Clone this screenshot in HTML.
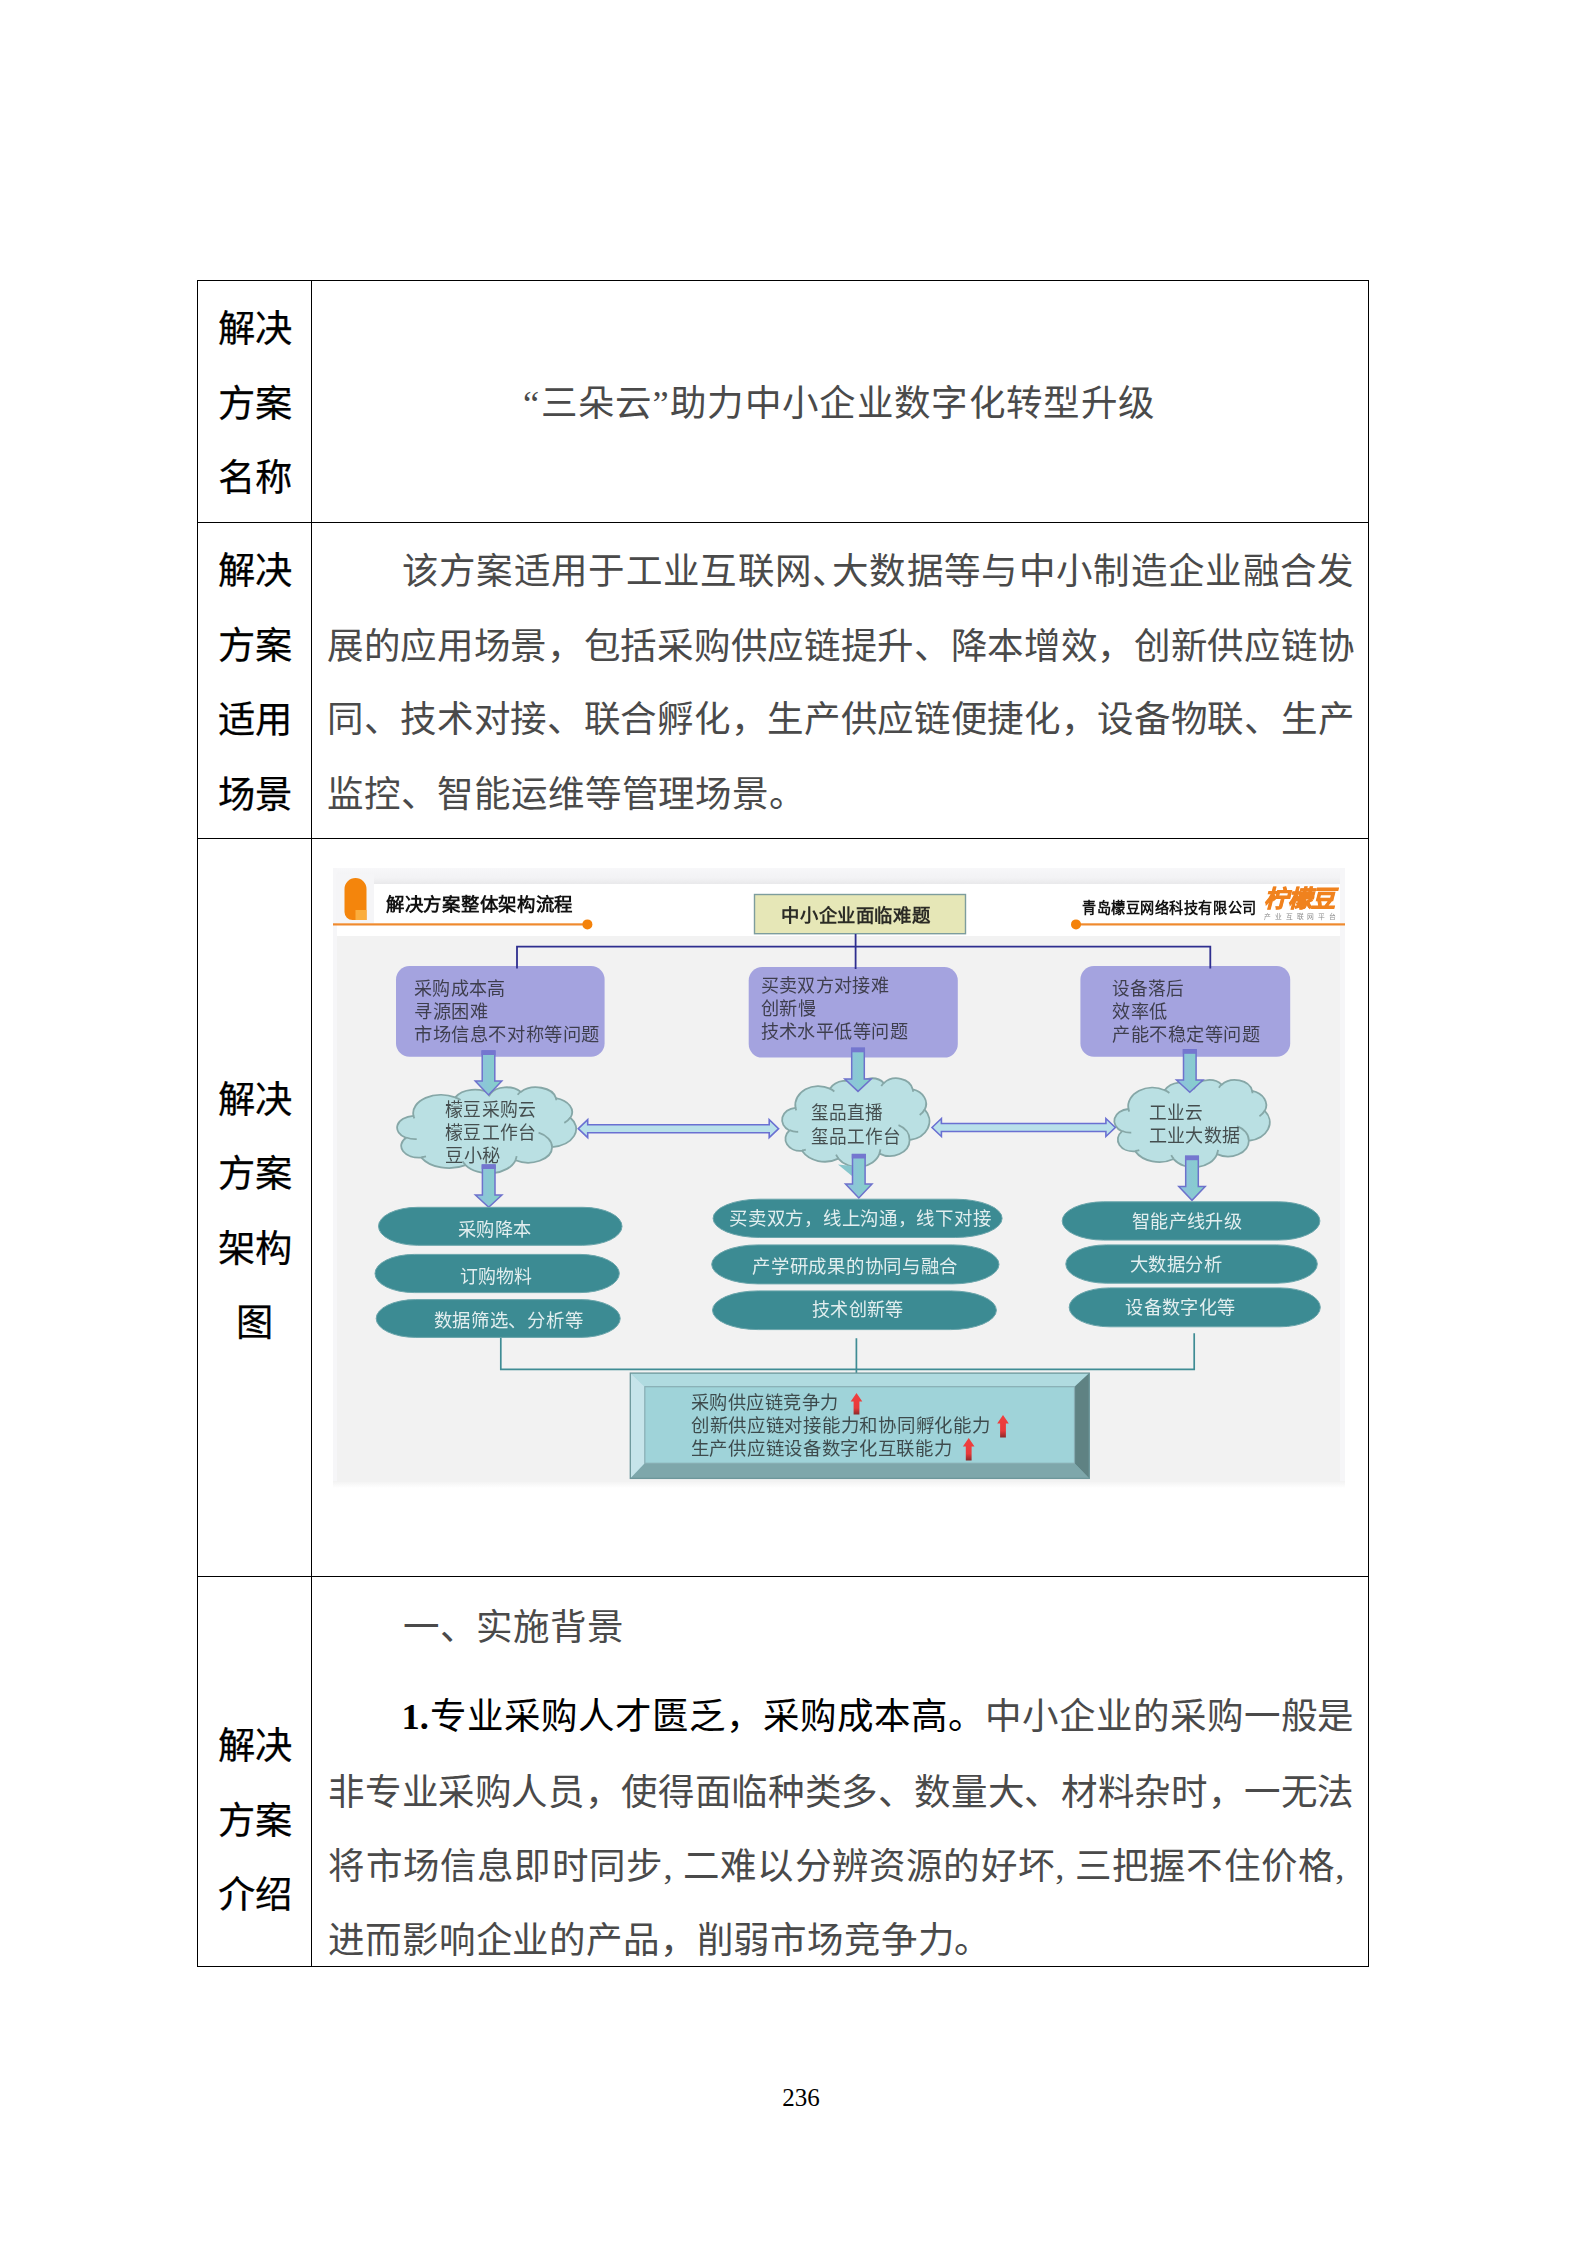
<!DOCTYPE html>
<html lang="zh-CN">
<head>
<meta charset="utf-8">
<title>解决方案</title>
<style>
html,body{margin:0;padding:0;background:#fff;}
body{width:1587px;height:2245px;position:relative;overflow:hidden;font-family:"Liberation Serif", serif;color:#000;}
.hl,.vl{position:absolute;background:#000;}
.hl{height:1px;}
.vl{width:1px;}
.t{position:absolute;white-space:nowrap;font-family:"Liberation Serif", serif;font-size:36.5px;line-height:50px;height:50px;color:#4a4a4a;}
.j{text-align:justify;text-align-last:justify;}
.s{letter-spacing:0.83px;}
.lab{position:absolute;left:198px;width:113px;text-align:center;white-space:nowrap;font-family:"Liberation Serif", serif;font-size:37.3px;line-height:50px;height:50px;font-weight:normal;color:#000;-webkit-text-stroke:0.25px #000;}
.h{display:inline-block;width:0.5em;}
b{font-weight:bold;color:#000;}
.k{color:#000;}
.pg{position:absolute;left:700px;width:200px;text-align:center;font-family:"Liberation Serif", serif;font-size:25px;line-height:30px;color:#000;}
svg{position:absolute;left:333px;top:868px;filter:blur(0.45px);}
svg text{font-family:"Liberation Serif", serif;}
svg .sn{font-family:"Liberation Sans", sans-serif;font-weight:bold;}
</style>
</head>
<body>

<div class="hl" style="left:197px;top:280px;width:1172px"></div>
<div class="hl" style="left:197px;top:522px;width:1172px"></div>
<div class="hl" style="left:197px;top:838px;width:1172px"></div>
<div class="hl" style="left:197px;top:1576px;width:1172px"></div>
<div class="hl" style="left:197px;top:1966px;width:1172px"></div>
<div class="vl" style="left:197px;top:280px;height:1687px"></div>
<div class="vl" style="left:311px;top:280px;height:1687px"></div>
<div class="vl" style="left:1368px;top:280px;height:1687px"></div>
<div class="lab" style="top:305.2px">解决</div>
<div class="lab" style="top:379.6px">方案</div>
<div class="lab" style="top:454.2px">名称</div>
<div class="lab" style="top:546.6px">解决</div>
<div class="lab" style="top:621.7px">方案</div>
<div class="lab" style="top:696.4px">适用</div>
<div class="lab" style="top:771.0px">场景</div>
<div class="lab" style="top:1075.8px">解决</div>
<div class="lab" style="top:1150.1px">方案</div>
<div class="lab" style="top:1224.6px">架构</div>
<div class="lab" style="top:1298.8px">图</div>
<div class="lab" style="top:1721.6px">解决</div>
<div class="lab" style="top:1797.0px">方案</div>
<div class="lab" style="top:1871.2px">介绍</div>
<div class="t j" style="left:523.1px;top:379.4px;width:630.9px;">“三朵云”助力中小企业数字化转型升级</div>
<div class="t j" style="left:401.7px;top:546.5px;width:951.8px;">该方案适用于工业互联网<span class="h">、</span>大数据等与中小制造企业融合发</div>
<div class="t j" style="left:327.0px;top:621.7px;width:1026.5px;">展的应用场景，包括采购供应链提升、降本增效，创新供应链协</div>
<div class="t j" style="left:327.0px;top:695.4px;width:1026.5px;">同、技术对接、联合孵化，生产供应链便捷化，设备物联、生产</div>
<div class="t s" style="left:327.0px;top:770.1px;">监控、智能运维等管理场景。</div>
<div class="t s" style="left:402.7px;top:1603.3px;">一、实施背景</div>
<div class="t j" style="left:401.4px;top:1692.2px;width:952.1px;"><b>1.</b><span class="k">专业采购人才匮乏，采购成本高。</span>中小企业的采购一般是</div>
<div class="t j" style="left:328.3px;top:1767.8px;width:1025.2px;">非专业采购人员，使得面临种类多、数量大、材料杂时，一无法</div>
<div class="t j" style="left:328.3px;top:1841.5px;width:1025.2px;">将市场信息即时同步<span class="h">,</span>二难以分辨资源的好坏<span class="h">,</span>三把握不住价格<span class="h">,</span></div>
<div class="t s" style="left:328.3px;top:1915.7px;">进而影响企业的产品，削弱市场竞争力。</div>
<div class="pg" style="top:2082.8px;left:701px">236</div>
<svg width="1012" height="620" viewBox="333 868 1012 620">
<defs>
<linearGradient id="ga" x1="0" y1="0" x2="1" y2="0"><stop offset="0" stop-color="#8fc0e0"/><stop offset="1" stop-color="#84d2c6"/></linearGradient>
 <linearGradient id="gt" x1="0" y1="0" x2="0" y2="1"><stop offset="0" stop-color="#f7f7f9"/><stop offset="0.6" stop-color="#f3f3f5"/><stop offset="1" stop-color="#e9e9eb"/></linearGradient>
<linearGradient id="gb" x1="0" y1="0" x2="0" y2="1"><stop offset="0" stop-color="#f2f2f2"/><stop offset="1" stop-color="#ffffff"/></linearGradient>
<linearGradient id="gr" x1="0" y1="0" x2="0" y2="1"><stop offset="0" stop-color="#f04040"/><stop offset="0.7" stop-color="#e83a3a"/><stop offset="1" stop-color="#8a2a2a"/></linearGradient>
</defs>
<rect x="333" y="868" width="1012" height="615" fill="#f6f6f8"/>
<rect x="337" y="868" width="1003" height="16" fill="url(#gt)"/>
<rect x="333" y="1481" width="1012" height="7" fill="url(#gb)"/>
<rect x="337" y="884" width="1003" height="598" fill="#f2f2f2"/>
<rect x="337" y="884" width="1003" height="52" fill="#ffffff"/>
<rect x="336" y="874" width="38" height="49" fill="#f5f5f7"/>
<path d="M344.5 889 a11 11 0 0 1 22 0 V920 H352.5 a8 8 0 0 1 -8 -8 Z" fill="#f4850c"/>
<rect x="355.5" y="910" width="11" height="10" fill="#fbad3c"/>
<rect x="333" y="923.3" width="254" height="2.2" fill="#ef8a2e"/>
<circle cx="587.4" cy="924.4" r="5" fill="#f4820a"/>
<text class="sn" x="386" y="911.2" font-size="18.7" textLength="187" lengthAdjust="spacingAndGlyphs" fill="#111">解决方案整体架构流程</text>
<rect x="1076" y="923.3" width="269" height="2.2" fill="#ef8a2e"/>
<circle cx="1076" cy="924.4" r="5" fill="#f4820a"/>
<text class="sn" x="1082.3" y="912.6" font-size="14.6" textLength="174.3" lengthAdjust="spacingAndGlyphs" fill="#111">青岛檬豆网络科技有限公司</text>
<text class="sn" x="1264" y="907.0" font-size="23.5" font-style="italic" textLength="71" lengthAdjust="spacingAndGlyphs" fill="#f0821e" stroke="#f0821e" stroke-width="0.9">柠檬豆</text>
<text x="1264" y="919.3" font-size="6.8" textLength="72" lengthAdjust="spacing" fill="#8c8c8c" style="font-family:'Liberation Sans', sans-serif">产业互联网平台</text>
<rect x="754.5" y="894.5" width="211" height="39.2" fill="#e6e7b7" stroke="#7d9d9d" stroke-width="1.4"/>
<text x="781.3" y="922.2" font-size="18.7" font-weight="bold" textLength="149" lengthAdjust="spacingAndGlyphs" fill="#111" fill-opacity="0.88">中小企业面临难题</text>
<path d="M500.8 1337 V1369.3 H1194.2 V1333.3 M856.4 1338.3 V1373" fill="none" stroke="#3f8c94" stroke-width="1.7"/>
<rect x="396.0" y="966.0" width="208.6" height="90.8" rx="13.5" ry="13.5" fill="#a4a3df"/>
<rect x="748.7" y="967.0" width="209.1" height="90.6" rx="13.5" ry="13.5" fill="#a4a3df"/>
<rect x="1080.4" y="966.0" width="209.8" height="90.8" rx="13.5" ry="13.5" fill="#a4a3df"/>
<path d="M517 968.5 V946.6 H1210.3 V968.5 M855.6 934 V969" fill="none" stroke="#2f2f8f" stroke-width="1.8"/>
<text x="414.0" y="995.3" font-size="18.7" fill="#1c1c1c" fill-opacity="0.75" textLength="91.7" lengthAdjust="spacingAndGlyphs">采购成本高</text>
<text x="414.0" y="1018.3" font-size="18.7" fill="#1c1c1c" fill-opacity="0.75" textLength="74.0" lengthAdjust="spacingAndGlyphs">寻源困难</text>
<text x="414.0" y="1040.8" font-size="18.7" fill="#1c1c1c" fill-opacity="0.75" textLength="186.0" lengthAdjust="spacingAndGlyphs">市场信息不对称等问题</text>
<text x="760.6" y="991.9" font-size="18.7" fill="#1c1c1c" fill-opacity="0.75" textLength="128.6" lengthAdjust="spacingAndGlyphs">买卖双方对接难</text>
<text x="760.6" y="1014.7" font-size="18.7" fill="#1c1c1c" fill-opacity="0.75" textLength="55.5" lengthAdjust="spacingAndGlyphs">创新慢</text>
<text x="760.6" y="1038.2" font-size="18.7" fill="#1c1c1c" fill-opacity="0.75" textLength="147.4" lengthAdjust="spacingAndGlyphs">技术水平低等问题</text>
<text x="1112.0" y="994.7" font-size="18.7" fill="#1c1c1c" fill-opacity="0.75" textLength="71.8" lengthAdjust="spacingAndGlyphs">设备落后</text>
<text x="1112.0" y="1018.3" font-size="18.7" fill="#1c1c1c" fill-opacity="0.75" textLength="55.5" lengthAdjust="spacingAndGlyphs">效率低</text>
<text x="1112.0" y="1041.0" font-size="18.7" fill="#1c1c1c" fill-opacity="0.75" textLength="148.0" lengthAdjust="spacingAndGlyphs">产能不稳定等问题</text>
<path d="M413.44 1115.61A27.95 18.29 0 0 1 455.27 1097.36A22.07 14.47 0 0 1 490.24 1093.83A18.07 11.83 0 0 1 520.78 1091.94A20.10 13.13 0 0 1 555.89 1098.10A22.07 14.48 0 0 1 570.38 1117.78A28.04 18.35 0 0 1 552.11 1147.13A23.94 15.66 0 0 1 515.49 1160.29A27.95 18.34 0 0 1 465.51 1165.16A31.95 20.99 0 0 1 421.33 1157.61A18.05 11.78 0 0 1 406.05 1137.86A17.98 11.83 0 0 1 413.29 1115.87Z" fill="#bae0e3" stroke="#86a7a7" stroke-width="1.8"/>
<path d="M416.72 1139.11A17.98 11.83 0 0 1 406.24 1137.52M425.97 1156.47A18.05 11.78 0 0 1 421.39 1157.23M465.50 1164.82A27.95 18.34 0 0 1 462.74 1161.35M516.61 1156.18A27.95 18.34 0 0 1 515.51 1159.98M538.56 1132.70A23.94 15.66 0 0 1 552.01 1146.90M570.30 1117.57A22.07 14.48 0 0 1 564.31 1122.89M555.92 1097.80A20.10 13.13 0 0 1 556.24 1100.32M517.65 1094.87A20.10 13.13 0 0 1 520.72 1091.66M488.94 1096.40A18.07 11.83 0 0 1 490.43 1093.63M455.24 1097.34A27.95 18.29 0 0 1 460.62 1100.02M414.38 1118.43A27.95 18.29 0 0 1 413.44 1115.61" fill="none" stroke="#86a7a7" stroke-width="1.8"/>
<path d="M795.49 1107.51A23.01 18.87 0 0 1 829.92 1088.68A18.17 14.92 0 0 1 858.72 1085.05A14.87 12.21 0 0 1 883.85 1083.09A16.55 13.54 0 0 1 912.77 1089.45A18.17 14.93 0 0 1 924.69 1109.74A23.09 18.93 0 0 1 909.65 1140.01A19.71 16.15 0 0 1 879.50 1153.59A23.01 18.92 0 0 1 838.36 1158.62A26.31 21.65 0 0 1 801.98 1150.83A14.86 12.15 0 0 1 789.40 1130.46A14.81 12.21 0 0 1 795.36 1107.78Z" fill="#bae0e3" stroke="#86a7a7" stroke-width="1.8"/>
<path d="M798.19 1131.75A14.81 12.21 0 0 1 789.56 1130.11M805.81 1149.66A14.86 12.15 0 0 1 802.03 1150.44M838.35 1158.26A23.01 18.92 0 0 1 836.07 1154.69M880.43 1149.35A23.01 18.92 0 0 1 879.52 1153.27M898.49 1125.13A19.71 16.15 0 0 1 909.57 1139.78M924.62 1109.53A18.17 14.93 0 0 1 919.69 1115.02M912.79 1089.14A16.55 13.54 0 0 1 913.05 1091.74M881.28 1086.11A16.55 13.54 0 0 1 883.81 1082.81M857.64 1087.69A14.87 12.21 0 0 1 858.87 1084.84M829.90 1088.66A23.01 18.87 0 0 1 834.33 1091.43M796.26 1110.42A23.01 18.87 0 0 1 795.49 1107.51" fill="none" stroke="#86a7a7" stroke-width="1.8"/>
<path d="M1128.42 1108.74A24.28 18.57 0 0 1 1164.75 1090.21A19.17 14.69 0 0 1 1195.13 1086.64A15.69 12.01 0 0 1 1221.65 1084.71A17.46 13.33 0 0 1 1252.15 1090.97A19.17 14.70 0 0 1 1264.73 1110.94A24.36 18.63 0 0 1 1248.87 1140.74A20.80 15.90 0 0 1 1217.06 1154.09A24.27 18.62 0 0 1 1173.65 1159.05A27.75 21.31 0 0 1 1135.27 1151.38A15.67 11.96 0 0 1 1122.00 1131.33A15.62 12.01 0 0 1 1128.29 1109.01Z" fill="#bae0e3" stroke="#86a7a7" stroke-width="1.8"/>
<path d="M1131.27 1132.60A15.62 12.01 0 0 1 1122.16 1130.99M1139.31 1150.23A15.67 11.96 0 0 1 1135.32 1151.00M1173.64 1158.69A24.27 18.62 0 0 1 1171.24 1155.18M1218.03 1149.93A24.27 18.62 0 0 1 1217.07 1153.78M1237.09 1126.09A20.80 15.90 0 0 1 1248.78 1140.51M1264.66 1110.73A19.17 14.70 0 0 1 1259.46 1116.13M1252.17 1090.67A17.46 13.33 0 0 1 1252.45 1093.22M1218.93 1087.69A17.46 13.33 0 0 1 1221.60 1084.43M1193.99 1089.24A15.69 12.01 0 0 1 1195.29 1086.43M1164.73 1090.19A24.28 18.57 0 0 1 1169.40 1092.92M1129.24 1111.61A24.28 18.57 0 0 1 1128.42 1108.74" fill="none" stroke="#86a7a7" stroke-width="1.8"/>
<path d="M838 1164.5 L852 1166 L852 1176 Z" fill="#86c6cc"/>
<text x="445.2" y="1115.6" font-size="18.7" fill="#1c1c1c" fill-opacity="0.75" textLength="90.8" lengthAdjust="spacingAndGlyphs">檬豆采购云</text>
<text x="445.2" y="1139.2" font-size="18.7" fill="#1c1c1c" fill-opacity="0.75" textLength="90.8" lengthAdjust="spacingAndGlyphs">檬豆工作台</text>
<text x="445.2" y="1162.0" font-size="18.7" fill="#1c1c1c" fill-opacity="0.75" textLength="55.5" lengthAdjust="spacingAndGlyphs">豆小秘</text>
<text x="811.0" y="1119.2" font-size="18.7" fill="#1c1c1c" fill-opacity="0.75" textLength="71.7" lengthAdjust="spacingAndGlyphs">玺品直播</text>
<text x="811.0" y="1142.7" font-size="18.7" fill="#1c1c1c" fill-opacity="0.75" textLength="89.7" lengthAdjust="spacingAndGlyphs">玺品工作台</text>
<text x="1148.8" y="1118.8" font-size="18.7" fill="#1c1c1c" fill-opacity="0.75" textLength="53.8" lengthAdjust="spacingAndGlyphs">工业云</text>
<text x="1148.8" y="1142.1" font-size="18.7" fill="#1c1c1c" fill-opacity="0.75" textLength="91.7" lengthAdjust="spacingAndGlyphs">工业大数据</text>
<path d="M482.2 1051.0 H494.8 V1081.0 H501.8 L488.5 1095.0 L475.2 1081.0 H482.2 Z" fill="url(#ga)" stroke="#6d72cc" stroke-width="1.5" stroke-linejoin="miter"/>
<rect x="481.5" y="1050.5" width="14.0" height="4.5" fill="#7476cf"/>
<path d="M482.4 1165.0 H495.0 V1195.0 H501.9 L488.7 1207.3 L475.4 1195.0 H482.4 Z" fill="url(#ga)" stroke="#6d72cc" stroke-width="1.5" stroke-linejoin="miter"/>
<rect x="481.7" y="1164.5" width="14.0" height="4.5" fill="#7476cf"/>
<path d="M851.7 1048.3 H864.3 V1079.0 H871.2 L858.0 1091.4 L844.8 1079.0 H851.7 Z" fill="url(#ga)" stroke="#6d72cc" stroke-width="1.5" stroke-linejoin="miter"/>
<rect x="851.0" y="1047.8" width="14.0" height="4.5" fill="#7476cf"/>
<path d="M852.5 1154.5 H865.1 V1184.0 H872.0 L858.8 1198.0 L845.5 1184.0 H852.5 Z" fill="url(#ga)" stroke="#6d72cc" stroke-width="1.5" stroke-linejoin="miter"/>
<rect x="851.8" y="1154.0" width="14.0" height="4.5" fill="#7476cf"/>
<path d="M1183.5 1049.8 H1196.1 V1080.0 H1203.0 L1189.8 1092.3 L1176.5 1080.0 H1183.5 Z" fill="url(#ga)" stroke="#6d72cc" stroke-width="1.5" stroke-linejoin="miter"/>
<rect x="1182.8" y="1049.3" width="14.0" height="4.5" fill="#7476cf"/>
<path d="M1185.7 1156.2 H1198.3 V1186.4 H1205.2 L1192.0 1200.3 L1178.8 1186.4 H1185.7 Z" fill="url(#ga)" stroke="#6d72cc" stroke-width="1.5" stroke-linejoin="miter"/>
<rect x="1185.0" y="1155.7" width="14.0" height="4.5" fill="#7476cf"/>
<path d="M578.3 1128.7 L587.7 1119.7 V1124.7 H769.2 V1119.7 L778.6 1128.7 L769.2 1137.7 V1132.7 H587.7 V1137.7 Z" fill="#b9e1ea" stroke="#6a70d2" stroke-width="1.6" stroke-linejoin="miter"/>
<path d="M932.0 1127.5 L941.4 1118.5 V1123.5 H1105.9 V1118.5 L1115.3 1127.5 L1105.9 1136.5 V1131.5 H941.4 V1136.5 Z" fill="#b9e1ea" stroke="#6a70d2" stroke-width="1.6" stroke-linejoin="miter"/>
<rect x="378.5" y="1207.3" width="243.5" height="38.0" rx="39.2" ry="19.0" fill="#3c8b93" stroke="#6aa5ab" stroke-width="1"/>
<rect x="375.0" y="1254.4" width="244.3" height="38.2" rx="39.3" ry="19.1" fill="#3c8b93" stroke="#6aa5ab" stroke-width="1"/>
<rect x="376.2" y="1299.6" width="244.0" height="37.8" rx="39.3" ry="18.9" fill="#3c8b93" stroke="#6aa5ab" stroke-width="1"/>
<rect x="713.1" y="1199.2" width="289.0" height="38.3" rx="46.5" ry="19.1" fill="#3c8b93" stroke="#6aa5ab" stroke-width="1"/>
<rect x="711.7" y="1244.9" width="287.3" height="39.0" rx="46.2" ry="19.5" fill="#3c8b93" stroke="#6aa5ab" stroke-width="1"/>
<rect x="712.5" y="1290.9" width="283.9" height="38.7" rx="45.7" ry="19.3" fill="#3c8b93" stroke="#6aa5ab" stroke-width="1"/>
<rect x="1062.2" y="1201.8" width="257.7" height="38.3" rx="41.5" ry="19.1" fill="#3c8b93" stroke="#6aa5ab" stroke-width="1"/>
<rect x="1065.8" y="1244.9" width="251.5" height="38.3" rx="40.5" ry="19.1" fill="#3c8b93" stroke="#6aa5ab" stroke-width="1"/>
<rect x="1069.2" y="1287.9" width="251.1" height="38.9" rx="40.4" ry="19.4" fill="#3c8b93" stroke="#6aa5ab" stroke-width="1"/>
<text x="457.9" y="1235.9" font-size="18.7" fill="#ffffff" fill-opacity="0.85" textLength="74.1" lengthAdjust="spacingAndGlyphs">采购降本</text>
<text x="459.7" y="1283.0" font-size="18.7" fill="#ffffff" fill-opacity="0.85" textLength="72.8" lengthAdjust="spacingAndGlyphs">订购物料</text>
<text x="433.7" y="1326.8" font-size="18.7" fill="#ffffff" fill-opacity="0.85" textLength="149.5" lengthAdjust="spacingAndGlyphs">数据筛选、分析等</text>
<text x="729.2" y="1224.8" font-size="18.7" fill="#ffffff" fill-opacity="0.85" textLength="262.2" lengthAdjust="spacingAndGlyphs">买卖双方，线上沟通，线下对接</text>
<text x="752.4" y="1273.2" font-size="18.7" fill="#ffffff" fill-opacity="0.85" textLength="205.7" lengthAdjust="spacingAndGlyphs">产学研成果的协同与融合</text>
<text x="811.9" y="1315.5" font-size="18.7" fill="#ffffff" fill-opacity="0.85" textLength="91.8" lengthAdjust="spacingAndGlyphs">技术创新等</text>
<text x="1131.8" y="1227.8" font-size="18.7" fill="#ffffff" fill-opacity="0.85" textLength="110.5" lengthAdjust="spacingAndGlyphs">智能产线升级</text>
<text x="1129.7" y="1271.2" font-size="18.7" fill="#ffffff" fill-opacity="0.85" textLength="92.8" lengthAdjust="spacingAndGlyphs">大数据分析</text>
<text x="1125.1" y="1313.5" font-size="18.7" fill="#ffffff" fill-opacity="0.85" textLength="110.5" lengthAdjust="spacingAndGlyphs">设备数字化等</text>
<rect x="630.3" y="1373.1" width="459.0" height="105.3" fill="#9fd3d9"/>
<path d="M630.3 1373.1 H1089.3 L1074.5 1386.7 H644.8 Z" fill="#b0dbe0"/>
<path d="M630.3 1373.1 L644.8 1386.7 V1463.3 L630.3 1478.4 Z" fill="#c6e4ea"/>
<path d="M630.3 1478.4 L644.8 1463.3 H1074.5 L1089.3 1478.4 Z" fill="#7ea7ab"/>
<path d="M1089.3 1373.1 L1074.5 1386.7 V1463.3 L1089.3 1478.4 Z" fill="#5f8283"/>
<rect x="630.3" y="1373.1" width="459.0" height="105.3" fill="none" stroke="#6d979b" stroke-width="1.3"/>
<rect x="644.8" y="1386.7" width="429.7" height="76.6" fill="none" stroke="#88adb3" stroke-width="1.2"/>
<text x="690.8" y="1409.3" font-size="18.7" fill="#1c1c1c" fill-opacity="0.75" textLength="148.0" lengthAdjust="spacingAndGlyphs">采购供应链竞争力</text>
<text x="690.8" y="1432.0" font-size="18.7" fill="#1c1c1c" fill-opacity="0.75" textLength="299.7" lengthAdjust="spacingAndGlyphs">创新供应链对接能力和协同孵化能力</text>
<text x="690.8" y="1454.6" font-size="18.7" fill="#1c1c1c" fill-opacity="0.75" textLength="261.6" lengthAdjust="spacingAndGlyphs">生产供应链设备数字化互联能力</text>
<path d="M856.5 1393.0 L862.3 1401.5 H859.4 V1414.5 H853.6 V1401.5 H850.7 Z" fill="url(#gr)"/>
<path d="M1003.0 1415.0 L1008.8 1423.5 H1005.9 V1437.5 H1000.1 V1423.5 H997.2 Z" fill="url(#gr)"/>
<path d="M968.7 1438.0 L974.5 1446.5 H971.6 V1460.5 H965.8 V1446.5 H962.9 Z" fill="url(#gr)"/>
</svg>
</body>
</html>
